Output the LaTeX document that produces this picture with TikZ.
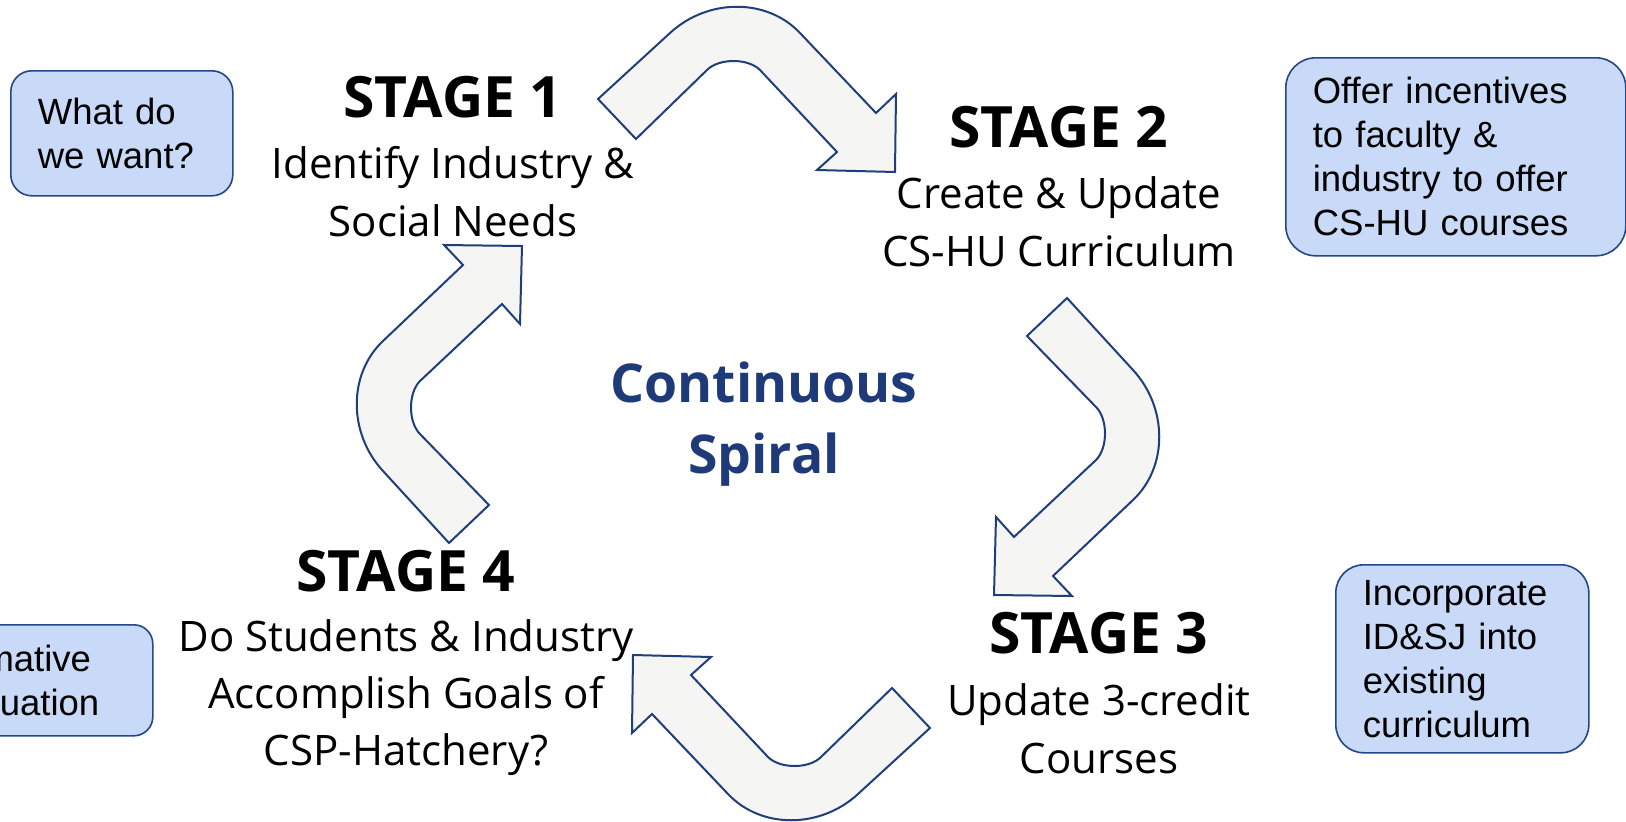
\documentclass[tikz,border=0pt]{standalone}
\usepackage{fontspec}
\setmainfont{Open Sans}
\newfontfamily\boxfont{Liberation Sans}
\definecolor{navy}{RGB}{31,62,124}
\definecolor{arrowfill}{RGB}{245,245,243}
\definecolor{boxfill}{RGB}{201,218,248}
\definecolor{boxline}{RGB}{36,71,138}
\definecolor{spiralblue}{RGB}{30,58,120}
\begin{document}
\begin{tikzpicture}[x=1pt,y=-1pt,
  arrowshape/.style={draw=navy, line width=2pt, fill=arrowfill, line join=miter},
  note/.style={draw=boxline, line width=1.6pt, fill=boxfill,
    font=\boxfont\fontsize{36.5}{44}\selectfont, align=left,
    inner xsep=27pt, inner ysep=0pt, anchor=north west},
  title/.style={font=\bfseries\fontsize{57}{68}\selectfont, inner sep=0pt, anchor=base},
  body/.style={font=\fontsize{42}{50}\selectfont, inner sep=0pt, anchor=base},
  spiral/.style={font=\bfseries\fontsize{53.5}{64}\selectfont, text=spiralblue, inner sep=0pt, anchor=base},
  bentarrow/.pic={
    \draw[arrowshape] (-19,-20) -- (53,-86)
      .. controls (91,-121) and (150,-121) .. (183,-86)
      -- (259,-6) -- (279,-25) -- (278,53) -- (200,51) -- (220,33)
      -- (143,-49) .. controls (131,-61) and (102,-61) .. (90,-49)
      -- (19,20) -- cycle;
  }]
\useasboundingbox (0,0) rectangle (1626,822);
\fill[white] (0,0) rectangle (1626,822);
\begin{scope}
\clip (0,0) rectangle (1626,822);

% arrows
\pic (a1) at (617,119) {bentarrow};
\pic[rotate=-90] (a2) at (1047,317) {bentarrow};
\pic[rotate=180] (a3) at (911,708) {bentarrow};
\pic[rotate=90] (a4) at (469,524) {bentarrow};

% side notes
\node[note, rounded corners=21pt, minimum width=222pt, minimum height=125pt, text width=168pt] (n1) at (10,70) {What do\\we want?};
\node[note, rounded corners=30pt, minimum width=340pt, minimum height=198pt, text width=286pt] (n2) at (1285,57) {Offer incentives\\to faculty \&\\industry to offer\\CS-HU courses};
\node[note, rounded corners=28pt, minimum width=253pt, minimum height=188pt, text width=199pt] (n3) at (1335,564) {Incorporate\\ID\&SJ into\\existing\\curriculum};
\node[note, rounded corners=19pt, inner xsep=28pt, minimum width=252pt, minimum height=111pt, text width=196pt] (n4) at (-100,624) {Formative\\Evaluation};

% stage 1
\node[title] (s1t) at (453,117) {STAGE 1};
\node[body] (s1a) at (453,178) {Identify Industry \&};
\node[body] (s1b) at (453,236) {Social Needs};
% stage 2
\node[title] (s2t) at (1059,147) {STAGE 2};
\node[body] (s2a) at (1059,208) {Create \& Update};
\node[body] (s2b) at (1059,266) {CS-HU Curriculum};
% stage 3
\node[title] (s3t) at (1099,653) {STAGE 3};
\node[body] (s3a) at (1099,715) {Update 3-credit};
\node[body] (s3b) at (1099,773) {Courses};
% stage 4
\node[title] (s4t) at (406,591) {STAGE 4};
\node[body] (s4a) at (406,651) {Do Students \& Industry};
\node[body] (s4b) at (406,708) {Accomplish Goals of};
\node[body] (s4c) at (406,765) {CSP-Hatchery?};

% centre
\node[spiral] (c1) at (764,402) {Continuous};
\node[spiral] (c2) at (764,473) {Spiral};
\end{scope}
\end{tikzpicture}
\end{document}
